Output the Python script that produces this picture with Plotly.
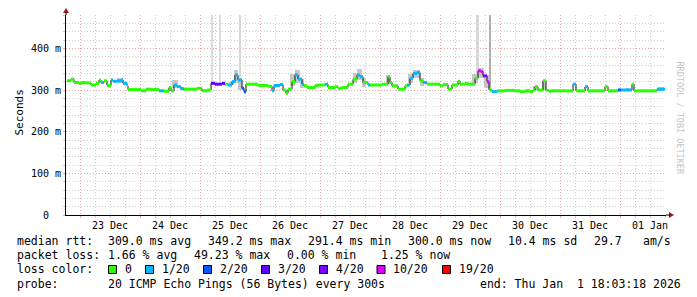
import plotly.graph_objects as go
import pandas as pd

# ---------------- data ----------------
med_time = [
    "2025-12-22 18:48", "2025-12-22 20:24", "2025-12-22 21:36", "2025-12-22 23:36",
    "2025-12-23 00:48", "2025-12-23 02:24", "2025-12-23 04:24", "2025-12-23 06:24",
    "2025-12-23 07:36", "2025-12-23 08:24", "2025-12-23 09:36", "2025-12-23 10:48",
    "2025-12-23 12:24", "2025-12-23 13:12", "2025-12-23 14:48", "2025-12-23 16:24",
    "2025-12-23 17:12", "2025-12-23 18:48", "2025-12-23 19:12", "2025-12-24 00:24",
    "2025-12-24 02:24", "2025-12-24 04:24", "2025-12-24 07:36", "2025-12-24 09:36",
    "2025-12-24 11:36", "2025-12-24 12:24", "2025-12-24 13:36", "2025-12-24 14:48",
    "2025-12-24 16:24", "2025-12-24 17:36", "2025-12-24 22:48", "2025-12-25 00:48",
    "2025-12-25 02:48", "2025-12-25 04:24", "2025-12-25 06:00", "2025-12-25 08:48",
    "2025-12-25 10:00", "2025-12-25 11:12", "2025-12-25 12:48", "2025-12-25 14:00",
    "2025-12-25 15:12", "2025-12-25 16:48", "2025-12-25 17:36", "2025-12-25 18:24",
    "2025-12-25 23:12", "2025-12-26 03:12", "2025-12-26 04:48", "2025-12-26 05:36",
    "2025-12-26 08:00", "2025-12-26 09:12", "2025-12-26 10:24", "2025-12-26 11:12",
    "2025-12-26 12:48", "2025-12-26 14:00", "2025-12-26 15:12", "2025-12-26 16:48",
    "2025-12-26 17:36", "2025-12-26 18:48", "2025-12-26 22:00", "2025-12-26 23:12",
    "2025-12-27 02:00", "2025-12-27 03:12", "2025-12-27 06:00", "2025-12-27 07:12",
    "2025-12-27 08:48", "2025-12-27 11:12", "2025-12-27 13:12", "2025-12-27 14:48",
    "2025-12-27 16:00", "2025-12-27 17:12", "2025-12-27 19:12", "2025-12-27 20:00",
    "2025-12-28 00:48", "2025-12-28 03:12", "2025-12-28 04:00", "2025-12-28 04:48",
    "2025-12-28 07:12", "2025-12-28 10:00", "2025-12-28 10:48", "2025-12-28 12:00",
    "2025-12-28 13:12", "2025-12-28 14:48", "2025-12-28 16:00", "2025-12-28 17:12",
    "2025-12-28 18:48", "2025-12-29 00:00", "2025-12-29 01:12", "2025-12-29 03:12",
    "2025-12-29 04:48", "2025-12-29 07:12", "2025-12-29 08:00", "2025-12-29 10:00",
    "2025-12-29 11:12", "2025-12-29 14:00", "2025-12-29 15:12", "2025-12-29 16:24",
    "2025-12-29 17:12", "2025-12-29 18:48", "2025-12-29 19:36", "2025-12-29 20:48",
    "2025-12-29 22:48", "2025-12-30 02:00", "2025-12-30 06:00", "2025-12-30 08:00",
    "2025-12-30 10:00", "2025-12-30 12:00", "2025-12-30 13:12", "2025-12-30 14:00",
    "2025-12-30 15:12", "2025-12-30 17:12", "2025-12-30 18:24", "2025-12-30 19:36",
    "2025-12-30 20:24", "2025-12-31 05:12", "2025-12-31 06:24", "2025-12-31 10:00",
    "2025-12-31 11:12", "2025-12-31 18:00", "2025-12-31 19:12", "2025-12-31 23:12",
    "2026-01-01 00:24", "2026-01-01 04:48", "2026-01-01 05:36", "2026-01-01 14:48",
]
med_rtt = [  # median round-trip time, ms
    322, 326, 318, 316, 318, 317, 312, 316, 324, 318, 322, 311,
    324, 321, 322, 324, 316, 310, 301, 298, 302, 301, 298, 297,
    306, 298, 312, 308, 303, 302, 304, 298, 300, 316, 314, 316,
    314, 312, 320, 336, 324, 304, 296, 314, 311, 309, 298, 311,
    313, 300, 292, 302, 320, 336, 326, 314, 310, 306, 311, 312,
    314, 306, 308, 304, 306, 314, 326, 336, 332, 318, 312, 312,
    314, 332, 318, 310, 302, 310, 312, 328, 340, 342, 322, 318,
    314, 310, 313, 302, 312, 321, 314, 316, 314, 328, 346, 344,
    334, 320, 300, 296, 298, 299, 298, 296, 298, 296, 300, 308,
    300, 322, 299, 297, 298, 314, 298, 308, 298, 308, 298, 300,
    300, 314, 298, 302,
]
med_loss = [  # lost pings out of 20
    0, 0, 0, 0, 0, 0, 0, 0, 0, 1, 0, 0,
    1, 1, 1, 1, 1, 0, 0, 0, 0, 0, 1, 0,
    0, 0, 1, 1, 1, 0, 0, 0, 0, 3, 3, 3,
    0, 1, 1, 1, 1, 2, 2, 0, 0, 0, 1, 1,
    1, 0, 0, 0, 0, 1, 1, 1, 0, 0, 0, 0,
    1, 0, 0, 0, 0, 0, 0, 1, 1, 0, 1, 0,
    0, 0, 0, 0, 0, 0, 1, 1, 1, 1, 0, 1,
    0, 0, 0, 0, 0, 0, 0, 0, 0, 0, 10, 10,
    4, 10, 0, 1, 0, 0, 0, 0, 0, 0, 0, 0,
    0, 0, 0, 0, 0, 1, 0, 1, 0, 0, 0, 2,
    1, 0, 0, 1,
]
end_time = "2026-01-01 18:03"

# smoke (spread of the 20 pings), ms
smoke_start = ["2025-12-23 14:48", "2025-12-24 12:48", "2025-12-24 16:00", "2025-12-25 11:36",
               "2025-12-25 13:36", "2025-12-25 15:12", "2025-12-26 12:00", "2025-12-26 14:00",
               "2025-12-26 16:00", "2025-12-27 13:12", "2025-12-27 14:48", "2025-12-27 16:48",
               "2025-12-28 02:24", "2025-12-28 11:12", "2025-12-28 13:12", "2025-12-28 16:00",
               "2025-12-29 12:48", "2025-12-29 15:12", "2025-12-29 17:36", "2025-12-30 13:12",
               "2025-12-30 16:48", "2026-01-01 02:24", "2026-01-01 15:12"]
smoke_end = ["2025-12-23 17:12", "2025-12-24 15:12", "2025-12-24 17:36", "2025-12-25 13:36",
             "2025-12-25 15:12", "2025-12-25 16:48", "2025-12-26 14:00", "2025-12-26 16:00",
             "2025-12-26 17:36", "2025-12-27 14:48", "2025-12-27 16:48", "2025-12-27 18:24",
             "2025-12-28 04:00", "2025-12-28 13:12", "2025-12-28 16:00", "2025-12-28 17:36",
             "2025-12-29 15:12", "2025-12-29 17:36", "2025-12-29 19:36", "2025-12-30 14:48",
             "2025-12-30 18:24", "2026-01-01 04:00", "2026-01-01 17:36"]
smoke_lo = [318, 306, 300, 312, 318, 300, 310, 318, 306, 318, 324, 308,
            312, 318, 330, 310, 318, 330, 305, 298, 300, 298, 298]
smoke_hi = [330, 324, 307, 320, 348, 328, 338, 348, 326, 342, 350, 328,
            336, 338, 348, 328, 338, 354, 336, 309, 324, 305, 307]

# tall grey columns (pings far above the scale)
spike_start = ["2025-12-25 04:24", "2025-12-25 07:36", "2025-12-25 15:36",
               "2025-12-29 14:24", "2025-12-29 19:36"]
spike_end = ["2025-12-25 05:12", "2025-12-25 08:24", "2025-12-25 16:24",
             "2025-12-29 15:36", "2025-12-29 20:24"]
spike_lo = [316, 316, 324, 330, 302]
spike_hi = [480, 480, 480, 480, 480]
spike_shade = ["#dcdcdc", "#dcdcdc", "#d8d8d8", "#d8d8d8", "#b0b0b0"]

loss_levels = [0, 1, 2, 3, 4, 10, 19]
loss_colors = ["#26ff00", "#00b8ff", "#0059ff", "#5e00ff", "#7e00ff", "#dd00ff", "#ff0000"]
loss_labels = ["0", "1/20", "2/20", "3/20", "4/20", "10/20", "19/20"]

day_labels = ["23 Dec", "24 Dec", "25 Dec", "26 Dec", "27 Dec",
              "28 Dec", "29 Dec", "30 Dec", "31 Dec", "01 Jan"]
day_noon = ["2025-12-23 12:00", "2025-12-24 12:00", "2025-12-25 12:00", "2025-12-26 12:00",
            "2025-12-27 12:00", "2025-12-28 12:00", "2025-12-29 12:00", "2025-12-30 12:00",
            "2025-12-31 12:00", "2026-01-01 12:00"]
y_ticks = [0, 100, 200, 300, 400]
y_tick_labels = ["0\u00a0\u00a0", "100 m", "200 m", "300 m", "400 m"]

x_range = ["2025-12-22 18:24", "2026-01-01 18:24"]
y_range = [0, 480]

rtt_row = ["median rtt:", "309.0 ms avg", "349.2 ms max", "291.4 ms min",
           "300.0 ms now", "10.4 ms sd", "29.7", "am/s"]
loss_row = ["packet loss:", "1.66 % avg", "49.23 % max", "0.00 % min", "1.25 % now"]
probe_row = ["probe:", "20 ICMP Echo Pings (56 Bytes) every 300s",
             "end: Thu Jan\u00a0\u00a01 18:03:18 2026"]

# ---------------- layout helpers (pixel geometry of the plot box) ----------------
L, R, T, B = 66, 666, 15, 215
W, H = 697, 297
FONT = "DejaVu Sans Mono"


def px(xp):
    return (xp - L) / (R - L)


def py(yp):
    return (B - yp) / (B - T)


fig = go.Figure()

# tall grey columns
ss = pd.to_datetime(spike_start)
se = pd.to_datetime(spike_end)
fig.add_trace(go.Bar(
    x=ss + (se - ss) / 2, width=[(e - s).total_seconds() * 1000 for s, e in zip(ss, se)],
    base=spike_lo, y=[h - l for h, l in zip(spike_hi, spike_lo)],
    marker=dict(color=spike_shade, line=dict(width=0)), hoverinfo="skip"))

# smoke
s0 = pd.to_datetime(smoke_start)
s1 = pd.to_datetime(smoke_end)
fig.add_trace(go.Bar(
    x=s0 + (s1 - s0) / 2, width=[(e - s).total_seconds() * 1000 for s, e in zip(s0, s1)],
    base=smoke_lo, y=[h - l for h, l in zip(smoke_hi, smoke_lo)],
    marker=dict(color="#c6c6c6", line=dict(width=0)), hoverinfo="skip"))

# median connector (black step line)
fig.add_trace(go.Scatter(
    x=med_time + [end_time], y=med_rtt + [med_rtt[-1]], mode="lines",
    line=dict(color="#111111", width=1, shape="hv"), hoverinfo="skip"))

# coloured horizontal segments by loss
t_next = med_time[1:] + [end_time]
for lvl, col in zip(loss_levels, loss_colors):
    xs, ys = [], []
    for t0, t1, v, l in zip(med_time, t_next, med_rtt, med_loss):
        if l == lvl:
            xs += [t0, t1, None]
            ys += [v, v, None]
    if xs:
        fig.add_trace(go.Scatter(x=xs, y=ys, mode="lines",
                                 line=dict(color=col, width=3), hoverinfo="skip"))

shapes = []
annotations = []

# axis arrows
arrow_col = "#9b1c1c"
shapes.append(dict(type="path", xref="paper", yref="paper", xsizemode="pixel", ysizemode="pixel",
                   xanchor=0, yanchor=1, path="M -3,2 L 3,2 L 0,7 Z",
                   fillcolor=arrow_col, line=dict(width=0)))
shapes.append(dict(type="path", xref="paper", yref="paper", xsizemode="pixel", ysizemode="pixel",
                   xanchor=1, yanchor=0, path="M 3,-3 L 3,3 L 8,0 Z",
                   fillcolor=arrow_col, line=dict(width=0)))
shapes.append(dict(type="path", xref="paper", yref="paper", xsizemode="pixel", ysizemode="pixel",
                   xanchor=1, yanchor=0, path="M 0,0 L 4,0", line=dict(color="black", width=1)))
shapes.append(dict(type="path", xref="paper", yref="paper", xsizemode="pixel", ysizemode="pixel",
                   xanchor=0, yanchor=1, path="M 0,0 L 0,3", line=dict(color="black", width=1)))

# x day labels
for t, lab in zip(day_noon, day_labels):
    annotations.append(dict(x=t, xref="x", y=py(225), yref="paper", text=lab, showarrow=False,
                            xanchor="center", yanchor="middle", borderpad=0,
                            font=dict(family=FONT, size=10, color="black")))

# axis title + watermark
annotations.append(dict(x=px(11), y=py(113), xref="paper", yref="paper", text="Seconds",
                        textangle=-90, showarrow=False, borderpad=0,
                        font=dict(family=FONT, size=11, color="black")))
annotations.append(dict(x=px(686), y=py(60), xref="paper", yref="paper",
                        text="RRDTOOL / TOBI OETIKER", textangle=90, showarrow=False, borderpad=0,
                        font=dict(family=FONT, size=8.5, color="#c4c4c4")))


def text_at(xp, yp, s):
    annotations.append(dict(x=px(xp), y=py(yp), xref="paper", yref="paper", text=s,
                            showarrow=False, xanchor="left", yanchor="middle", borderpad=0,
                            font=dict(family=FONT, size=11.5, color="black")))


for xp, s in zip([16, 107, 207, 307, 407, 507, 593, 642], rtt_row):
    text_at(xp, 241, s)
for xp, s in zip([16, 107, 193, 286, 380], loss_row):
    text_at(xp, 255, s)
text_at(16, 269, "loss color:")
for xp, col, lab in zip([108.5, 145.5, 203.5, 261.5, 319.5, 377, 442.5], loss_colors, loss_labels):
    shapes.append(dict(type="rect", xref="paper", yref="paper",
                       x0=px(xp), x1=px(xp + 8), y0=py(273.5), y1=py(265.5),
                       fillcolor=col, line=dict(color="black", width=1)))
    text_at(xp + 15, 269, lab)
for xp, s in zip([16, 107, 479], probe_row):
    text_at(xp, 283.5, s)

red_grid = "#eeaaaa"
grey_grid = "#cfcfcf"
fig.update_layout(
    width=W, height=H, margin=dict(l=L, r=W - R, t=T, b=H - B, pad=0),
    plot_bgcolor="white", paper_bgcolor="white", showlegend=False,
    barmode="overlay", bargap=0,
    font=dict(family=FONT, color="black"),
    shapes=shapes, annotations=annotations,
    xaxis=dict(type="date", range=x_range, tickmode="linear", tick0="2025-12-23",
               dtick=86400000, showticklabels=False, showgrid=True, gridcolor=red_grid,
               griddash="1px,2px", gridwidth=1, ticks="outside", ticklen=2, tickcolor=red_grid,
               showline=True, linecolor="black", linewidth=1, zeroline=False, fixedrange=True,
               minor=dict(tickmode="linear", tick0="2025-12-23", dtick=21600000, showgrid=True,
                          gridcolor=grey_grid, griddash="1px,2px", ticks="outside", ticklen=2,
                          tickcolor=grey_grid)),
    yaxis=dict(range=y_range, tickmode="array", tickvals=y_ticks, ticktext=y_tick_labels,
               showgrid=True, gridcolor=red_grid, griddash="1px,2px", gridwidth=1,
               ticks="outside", ticklen=2, tickcolor=red_grid,
               tickfont=dict(family=FONT, size=10, color="black"),
               showline=True, linecolor="black", linewidth=1, zeroline=False, fixedrange=True,
               minor=dict(tickmode="linear", tick0=0, dtick=20, showgrid=True,
                          gridcolor=grey_grid, griddash="1px,2px", ticks="outside", ticklen=2,
                          tickcolor=grey_grid)),
)

fig.write_html("out.html")
